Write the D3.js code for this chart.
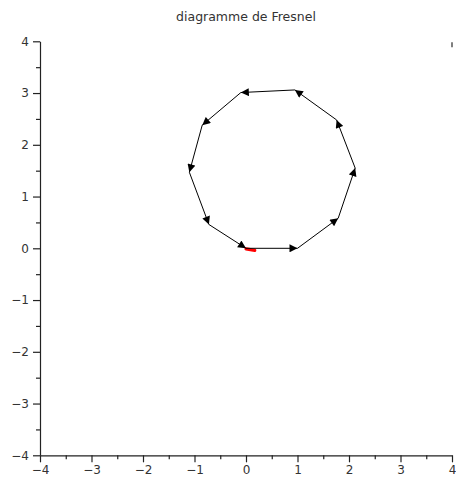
<!DOCTYPE html>
<html>
<head>
<meta charset="utf-8">
<script src="https://cdn.jsdelivr.net/npm/d3@7"></script>
<style>
  html, body { margin: 0; padding: 0; background: #fff; }
  svg { display: block; font-family: "DejaVu Sans", sans-serif; }
</style>
</head>
<body>
<svg id="chart" width="456" height="481"></svg>
<script>
// Phasor chain: vertices of the ten unit vectors, head to tail
const vertexX = [0, 1, 1.79, 2.12, 1.76, 0.95, -0.1, -0.85, -1.1, -0.72, 0];
const vertexY = [0, 0, 0.58, 1.55, 2.48, 3.06, 3.01, 2.38, 1.47, 0.46, 0];
// Resultant vector (drawn in red, nearly zero)
const resultX = [0, 0.17];
const resultY = [-0.01, -0.04];
const xTicks = [-4, -3, -2, -1, 0, 1, 2, 3, 4];
const yTicks = [-4, -3, -2, -1, 0, 1, 2, 3, 4];
const minorTicks = [-3.5, -2.5, -1.5, -0.5, 0.5, 1.5, 2.5, 3.5];
const title = "diagramme de Fresnel";

const svg = d3.select("#chart");
const x = d3.scaleLinear().domain([-4, 4]).range([40, 452]);
const y = d3.scaleLinear().domain([-4, 4]).range([455.3, 41.3]);

const axisColor = "#222";
const labelColor = "#333";

// Title
svg.append("text")
  .attr("x", 246).attr("y", 21)
  .attr("text-anchor", "middle")
  .attr("font-size", 12.5)
  .attr("fill", labelColor)
  .text(title);

// Axes
const gx = svg.append("g").attr("transform", `translate(0,${y(-4)})`)
  .call(d3.axisBottom(x).tickValues(xTicks).tickSize(7).tickSizeOuter(0).tickPadding(3));
const gy = svg.append("g").attr("transform", `translate(${x(-4)},0)`)
  .call(d3.axisLeft(y).tickValues(yTicks).tickSize(7).tickSizeOuter(0).tickPadding(4));
const gxm = svg.append("g").attr("transform", `translate(0,${y(-4)})`)
  .call(d3.axisBottom(x).tickValues(minorTicks).tickSize(4).tickSizeOuter(0).tickFormat(""));
const gym = svg.append("g").attr("transform", `translate(${x(-4)},0)`)
  .call(d3.axisLeft(y).tickValues(minorTicks).tickSize(4).tickSizeOuter(0).tickFormat(""));
[gx, gy, gxm, gym].forEach(g => {
  g.selectAll("path, line").attr("stroke", axisColor).attr("stroke-width", 1.2);
  g.selectAll("text").attr("fill", labelColor).attr("font-size", 12)
    .attr("font-family", "DejaVu Sans, sans-serif");
});
gxm.select(".domain").remove();
gym.select(".domain").remove();

// Small mark at the upper right corner of the frame
svg.append("line")
  .attr("x1", x(4)).attr("x2", x(4))
  .attr("y1", y(4) + 1).attr("y2", y(4) + 6)
  .attr("stroke", "#555").attr("stroke-width", 1.5);

// Arrow marker
const defs = svg.append("defs");
defs.append("marker")
  .attr("id", "headBlack")
  .attr("viewBox", "0 0 10 10")
  .attr("refX", 10).attr("refY", 5)
  .attr("markerUnits", "userSpaceOnUse")
  .attr("markerWidth", 9).attr("markerHeight", 8)
  .attr("orient", "auto")
  .append("path").attr("d", "M0,0 L10,5 L0,10 Z").attr("fill", "#000");

// Resultant (under the chain)
svg.append("line")
  .attr("x1", x(resultX[0])).attr("y1", y(resultY[0]))
  .attr("x2", x(resultX[1])).attr("y2", y(resultY[1]))
  .attr("stroke", "#f00").attr("stroke-width", 3.2)
  .attr("stroke-linecap", "round");

// Vectors
const vectors = d3.range(vertexX.length - 1).map(i => ({
  x0: vertexX[i], y0: vertexY[i], x1: vertexX[i + 1], y1: vertexY[i + 1]
}));
svg.append("g").selectAll("line").data(vectors).join("line")
  .attr("x1", d => x(d.x0)).attr("y1", d => y(d.y0))
  .attr("x2", d => x(d.x1)).attr("y2", d => y(d.y1))
  .attr("stroke", "#000").attr("stroke-width", 1)
  .attr("marker-end", "url(#headBlack)");
</script>
</body>
</html>
